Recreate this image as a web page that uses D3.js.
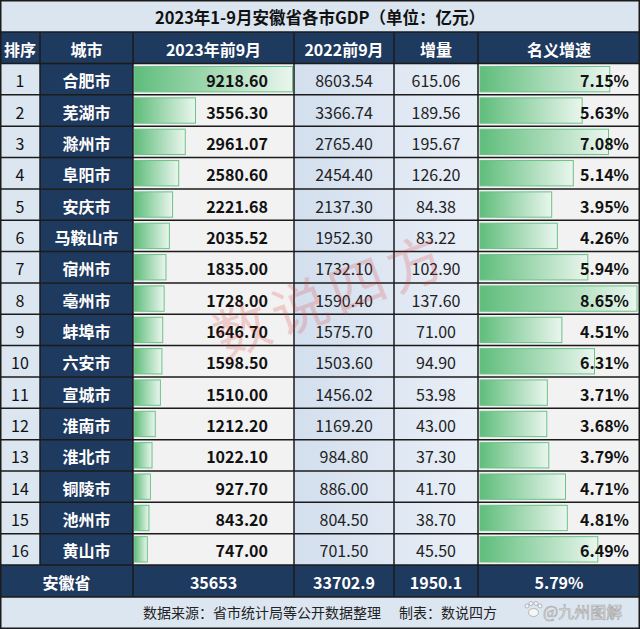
<!DOCTYPE html>
<html><head><meta charset="utf-8">
<script src="https://cdn.jsdelivr.net/npm/d3@7"></script>
<style>
html,body{margin:0;padding:0;background:#fff;}
svg{display:block;}
text{font-family:"Noto Sans CJK SC","Noto Sans",sans-serif;}
</style></head><body>
<svg id="c" width="640" height="629"></svg>
<script>
const title = "2023年1-9月安徽省各市GDP（单位：亿元）";
const headers = ["排序","城市","2023年前9月","2022前9月","增量","名义增速"];
const ranks = [1,2,3,4,5,6,7,8,9,10,11,12,13,14,15,16];
const cities = ["合肥市","芜湖市","滁州市","阜阳市","安庆市","马鞍山市","宿州市","亳州市","蚌埠市","六安市","宣城市","淮南市","淮北市","铜陵市","池州市","黄山市"];
const gdp2023 = [9218.60,3556.30,2961.07,2580.60,2221.68,2035.52,1835.00,1728.00,1646.70,1598.50,1510.00,1212.20,1022.10,927.70,843.20,747.00];
const gdp2022 = [8603.54,3366.74,2765.40,2454.40,2137.30,1952.30,1732.10,1590.40,1575.70,1503.60,1456.02,1169.20,984.80,886.00,804.50,701.50];
const increase = [615.06,189.56,195.67,126.20,84.38,83.22,102.90,137.60,71.00,94.90,53.98,43.00,37.30,41.70,38.70,45.50];
const growth = [7.15,5.63,7.08,5.14,3.95,4.26,5.94,8.65,4.51,6.31,3.71,3.68,3.79,4.71,4.81,6.49];
const totalLabel = "安徽省";
const totals = ["35653","33702.9","1950.1","5.79%"];
const sourceText = "数据来源：省市统计局等公开数据整理";
const makerText = "制表：数说四方";
const watermark = "数说四方";
const corner = "@九州图解";

const svg = d3.select("#c");
const W = 640;
const navy = "#1f3a5f", light = "#dce6f1", pale = "#f2f2f2", line = "#1b1b1b";
const cx = [0, 40, 133, 294, 394, 478, 640];

const defs = svg.append("defs");
const g1 = defs.append("linearGradient").attr("id","bar").attr("x1","0").attr("x2","1").attr("y1","0").attr("y2","0");
g1.append("stop").attr("offset","0").attr("stop-color","#5fbd7b");
g1.append("stop").attr("offset","1").attr("stop-color","#eaf6ee");
const g2 = defs.append("linearGradient").attr("id","blue").attr("x1","0").attr("x2","1").attr("y1","0").attr("y2","0");
g2.append("stop").attr("offset","0").attr("stop-color","#d3dfee");
g2.append("stop").attr("offset","1").attr("stop-color","#e9eff7");

// title band
svg.append("rect").attr("x",0).attr("y",0).attr("width",W).attr("height",32).attr("fill","#dbe5f0");
svg.append("text").attr("x",W/2).attr("y",17).attr("text-anchor","middle").attr("dominant-baseline","central")
  .attr("font-size",16.5).attr("font-weight","bold").attr("fill","#111").text(title);

// header
const headTop = 32, headBot = 63.5;
svg.append("rect").attr("x",0).attr("y",headTop).attr("width",W).attr("height",headBot-headTop).attr("fill",navy);
headers.forEach((h,i)=>{
  svg.append("text").attr("x",(cx[i]+cx[i+1])/2).attr("y",(headTop+headBot)/2+1)
    .attr("text-anchor","middle").attr("dominant-baseline","central")
    .attr("font-size",16).attr("font-weight","bold").attr("fill","#fff").text(h);
});

// rows
const y = d3.scaleBand().domain(ranks).range([headBot, 565]);
const rh = y.bandwidth();
const xBar = d3.scaleLinear().domain([0, d3.max(gdp2023)]).range([0, 158]);
const xG = d3.scaleLinear().domain([0, d3.max(growth)]).range([0, 157]);

const rows = svg.append("g").selectAll("g").data(ranks).join("g")
  .attr("transform", d => `translate(0,${y(d)})`);

rows.append("rect").attr("x",cx[0]).attr("width",cx[1]-cx[0]).attr("height",rh).attr("fill",light);
rows.append("rect").attr("x",cx[1]).attr("width",cx[2]-cx[1]).attr("height",rh).attr("fill",navy);
rows.append("rect").attr("x",cx[2]).attr("width",cx[3]-cx[2]).attr("height",rh).attr("fill",pale);
rows.append("rect").attr("x",cx[3]).attr("width",cx[5]-cx[3]).attr("height",rh).attr("fill","url(#blue)");
rows.append("rect").attr("x",cx[5]).attr("width",cx[6]-cx[5]).attr("height",rh).attr("fill",pale);

rows.append("rect").attr("x",cx[2]+1.5).attr("y",3).attr("height",rh-6)
  .attr("width",(d,i)=>xBar(gdp2023[i])).attr("fill","url(#bar)")
  .attr("stroke","#6cc288").attr("stroke-width",1);
rows.append("rect").attr("x",cx[5]+2).attr("y",3).attr("height",rh-6)
  .attr("width",(d,i)=>xG(growth[i])).attr("fill","url(#bar)")
  .attr("stroke","#6cc288").attr("stroke-width",1);

const ty = rh/2+1;
rows.append("text").attr("x",20).attr("y",ty).attr("text-anchor","middle").attr("dominant-baseline","central")
  .attr("font-size",16).attr("fill","#111").text(d=>d);
rows.append("text").attr("x",(cx[1]+cx[2])/2).attr("y",ty).attr("text-anchor","middle").attr("dominant-baseline","central")
  .attr("font-size",16).attr("font-weight","bold").attr("fill","#fff").text((d,i)=>cities[i]);
rows.append("text").attr("x",268).attr("y",ty).attr("text-anchor","end").attr("dominant-baseline","central")
  .attr("font-size",16).attr("font-weight","bold").attr("fill","#111").text((d,i)=>gdp2023[i].toFixed(2));
rows.append("text").attr("x",(cx[3]+cx[4])/2).attr("y",ty).attr("text-anchor","middle").attr("dominant-baseline","central")
  .attr("font-size",16).attr("fill","#222").text((d,i)=>gdp2022[i].toFixed(2));
rows.append("text").attr("x",(cx[4]+cx[5])/2).attr("y",ty).attr("text-anchor","middle").attr("dominant-baseline","central")
  .attr("font-size",16).attr("fill","#222").text((d,i)=>increase[i].toFixed(2));
rows.append("text").attr("x",629).attr("y",ty).attr("text-anchor","end").attr("dominant-baseline","central")
  .attr("font-size",16).attr("font-weight","bold").attr("fill","#111").text((d,i)=>growth[i].toFixed(2)+"%");

// total row
const tTop = 565, tBot = 597;
svg.append("rect").attr("x",0).attr("y",tTop).attr("width",W).attr("height",tBot-tTop).attr("fill",navy);
const tcx = [(cx[0]+cx[2])/2, (cx[2]+cx[3])/2, (cx[3]+cx[4])/2, (cx[4]+cx[5])/2, (cx[5]+cx[6])/2];
[totalLabel].concat(totals).forEach((t,i)=>{
  svg.append("text").attr("x",tcx[i]).attr("y",(tTop+tBot)/2+1).attr("text-anchor","middle").attr("dominant-baseline","central")
    .attr("font-size",16).attr("font-weight","bold").attr("fill","#fff").text(t);
});

// source row
svg.append("rect").attr("x",0).attr("y",tBot).attr("width",W).attr("height",629-tBot).attr("fill",light);
svg.append("text").attr("x",143).attr("y",612).attr("dominant-baseline","central")
  .attr("font-size",14).attr("fill","#222").text(sourceText);
svg.append("text").attr("x",399).attr("y",612).attr("dominant-baseline","central")
  .attr("font-size",14).attr("fill","#222").text(makerText);
// paw logo
const paw = svg.append("g").attr("fill","#f6f6f6").attr("stroke","#a8a8a8").attr("stroke-width",0.8);
[[527,606,2],[531,603.5,2],[536,603.5,2],[540,606,2]].forEach(p=>paw.append("circle").attr("cx",p[0]).attr("cy",p[1]).attr("r",p[2]));
paw.append("ellipse").attr("cx",533.5).attr("cy",612.5).attr("rx",5).attr("ry",4);
svg.append("text").attr("x",543).attr("y",611).attr("dominant-baseline","central")
  .attr("font-size",16).attr("fill","#f4f4f4").attr("stroke","#aaaaaa").attr("stroke-width",0.7).text(corner);

// grid lines
const gl = svg.append("g").attr("stroke",line).attr("stroke-width",1.5);
const hy = [headTop, headBot].concat(ranks.slice(1).map(d=>y(d))).concat([tTop, tBot]);
hy.forEach(v=>gl.append("line").attr("x1",0).attr("x2",W).attr("y1",v).attr("y2",v));
cx.slice(1,6).forEach((v,i)=>{
  gl.append("line").attr("x1",v).attr("x2",v).attr("y1",headTop).attr("y2", i===0 ? tTop : tBot);
});
svg.append("rect").attr("x",0.75).attr("y",0.75).attr("width",W-1.5).attr("height",627.5)
  .attr("fill","none").attr("stroke",line).attr("stroke-width",1.5);

// watermark
svg.append("text").attr("x",330).attr("y",292).attr("text-anchor","middle").attr("dominant-baseline","central")
  .attr("transform","rotate(-21,330,292)").attr("font-size",56).attr("letter-spacing",6)
  .attr("fill","#e03030").attr("fill-opacity",0.2).text(watermark);
</script>
</body></html>
